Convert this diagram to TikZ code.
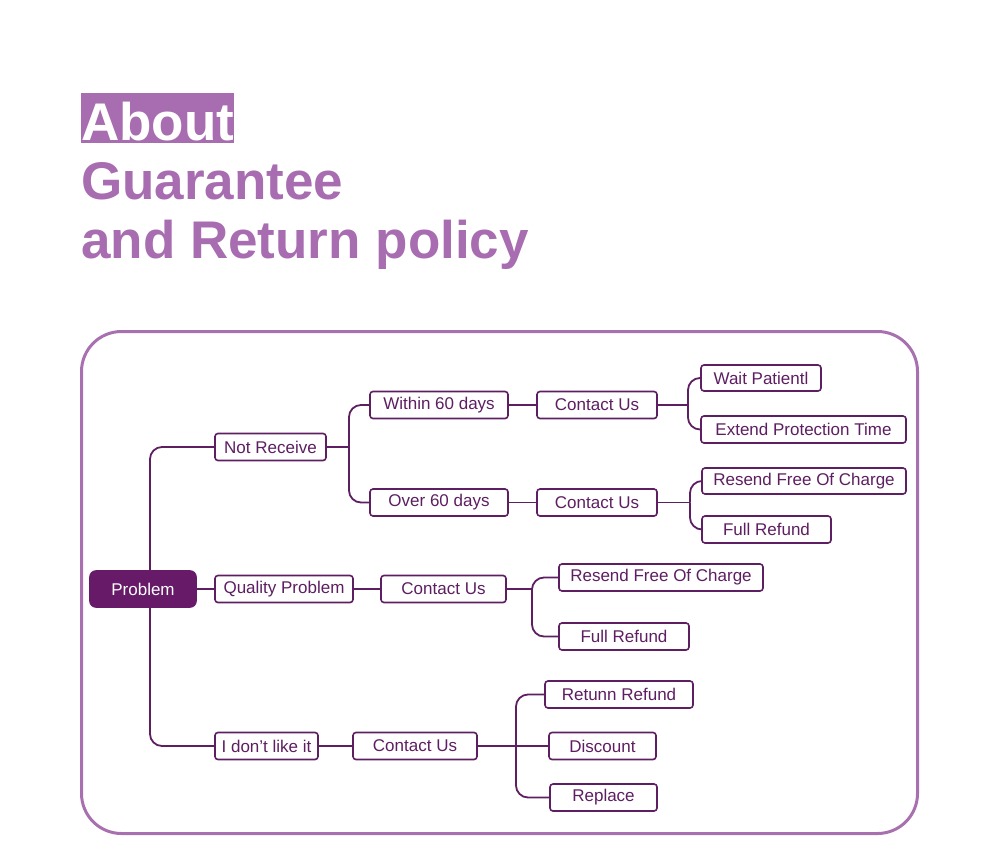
\documentclass[tikz,border=0pt]{standalone}
\usepackage{fontspec}
\setmainfont{Liberation Sans}
\usetikzlibrary{backgrounds}
\definecolor{titlec}{HTML}{A86CB0}
\definecolor{framec}{HTML}{A870AE}
\definecolor{dark}{HTML}{5E1E62}
\definecolor{probfill}{HTML}{661A68}
\tikzset{
  box/.style={draw=dark, line width=1.6pt, rounded corners=3pt, fill=white, text=dark,
    minimum height=27pt, inner sep=0pt, font=\fontsize{17}{20}\selectfont},
  conn/.style={draw=dark, line width=1.8pt, rounded corners=12pt},
  titletext/.style={anchor=base west, inner sep=0pt, text=titlec, font=\fontsize{53}{60}\selectfont\bfseries}
}
\begin{document}
\begin{tikzpicture}[x=1pt,y=-1pt]
\useasboundingbox (0,0) rectangle (1000,861);
% title
\fill[titlec] (81,93) rectangle (234,143);
\node[titletext, text=white] (t1) at (81,141) {About};
\node[titletext] (t2) at (81,200) {Guarantee};
\node[titletext] (t3) at (81,258) {and Return policy};
% frame
\draw[framec, line width=3pt, rounded corners=40pt] (81.5,331.5) rectangle (917.5,833.5);
% nodes
\node[box, fill=probfill, draw=probfill, text=white, rounded corners=6pt, minimum width=106pt, minimum height=36pt] (prob) at (143,589) {Problem};
\node[box, minimum width=111pt] (nr) at (270.5,447) {Not Receive};
\node[box, minimum width=138pt] (qp) at (284,589) {Quality Problem};
\node[box, minimum width=103pt] (idl) at (266.5,746) {I don’t like it};
\node[box, minimum width=138pt] (w60) at (439,405) {Within 60 days};
\node[box, minimum width=138pt] (o60) at (439,502.5) {Over 60 days};
\node[box, minimum width=120pt] (c1) at (597,405) {Contact Us};
\node[box, minimum width=120pt] (c2) at (597,502.5) {Contact Us};
\node[box, minimum width=125pt] (cq) at (443.5,589) {Contact Us};
\node[box, minimum width=124pt] (ci) at (415,746) {Contact Us};
\node[box, minimum width=120pt, minimum height=26pt] (wp) at (761,378) {Wait Patientl};
\node[box, minimum width=205pt] (ep) at (803.5,429.5) {Extend Protection Time};
\node[box, minimum width=204pt, minimum height=26pt] (rf1) at (804,481) {Resend Free Of Charge};
\node[box, minimum width=129pt] (fr1) at (766.5,529.5) {Full Refund};
\node[box, minimum width=204pt] (rfq) at (661,577.5) {Resend Free Of Charge};
\node[box, minimum width=130pt] (frq) at (624,636.5) {Full Refund};
\node[box, minimum width=148pt] (rr) at (619,694.5) {Retunn Refund};
\node[box, minimum width=107pt] (dc) at (602.5,746) {Discount};
\node[box, minimum width=107pt] (rp) at (603.5,797.5) {Replace};
% bus coordinates
\coordinate (tr) at (150,589);
\coordinate (b1) at (349,447);
\coordinate (b2) at (688,405);
\coordinate (b3) at (690,502.5);
\coordinate (b4) at (532,589);
\coordinate (b5) at (516,746);
\begin{scope}[on background layer]
\draw[conn] (nr.west) -| (tr);
\draw[conn] (idl.west) -| (tr);
\draw[conn] (prob.east) -- (qp.west);
\draw[conn] (nr.east) -- (b1);
\draw[conn] (w60.west) -| (b1);
\draw[conn] (o60.west) -| (b1);
\draw[conn] (w60.east) -- (c1.west);
\draw[conn] (o60.east) -- (c2.west);
\draw[conn] (qp.east) -- (cq.west);
\draw[conn] (idl.east) -- (ci.west);
\draw[conn] (c1.east) -- (b2);
\draw[conn] (wp.west) -| (b2);
\draw[conn] (ep.west) -| (b2);
\draw[conn] (c2.east) -- (b3);
\draw[conn] (rf1.west) -| (b3);
\draw[conn] (fr1.west) -| (b3);
\draw[conn] (cq.east) -- (b4);
\draw[conn] (rfq.west) -| (b4);
\draw[conn] (frq.west) -| (b4);
\draw[conn] (ci.east) -- (dc.west);
\draw[conn] (rr.west) -| (b5);
\draw[conn] (rp.west) -| (b5);
\end{scope}
\end{tikzpicture}
\end{document}
